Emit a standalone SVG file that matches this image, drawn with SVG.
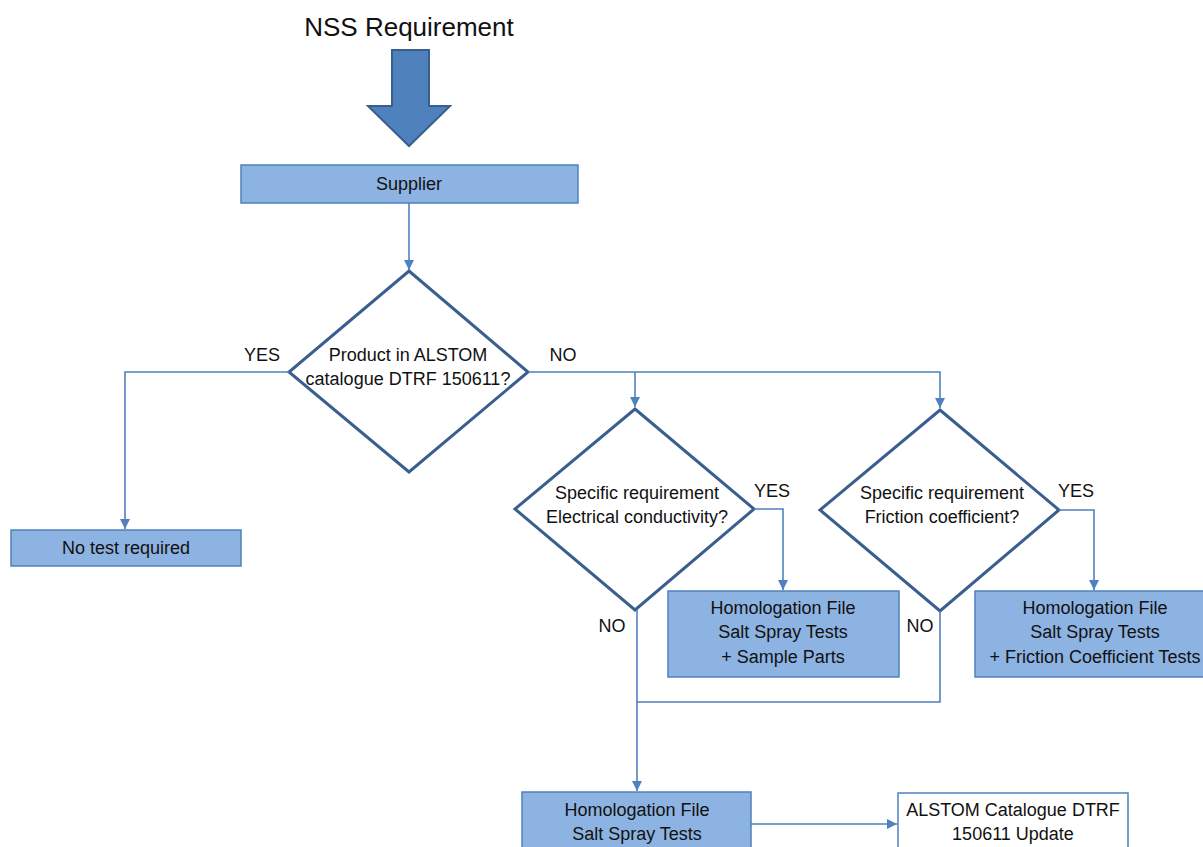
<svg xmlns="http://www.w3.org/2000/svg" width="1203" height="847" viewBox="0 0 1203 847">
  <style>
    .t { font-family: "Liberation Sans", Arial, sans-serif; font-size: 18px; fill: #111; text-anchor: middle; }
    .box { fill: #8DB3E2; stroke: #4F81BD; stroke-width: 1.5; }
    .wbox { fill: #ffffff; stroke: #4F81BD; stroke-width: 1.5; }
    .dia { fill: #ffffff; stroke: #3A5F8F; stroke-width: 3; stroke-linejoin: miter; }
    .con { fill: none; stroke: #4F81BD; stroke-width: 1.6; }
  </style>
  <defs>
    <marker id="arr" markerUnits="userSpaceOnUse" markerWidth="10" markerHeight="10" viewBox="0 0 10 10" refX="10" refY="5" orient="auto">
      <path d="M0,0 L10,5 L0,10 Z" fill="#4F81BD"/>
    </marker>
  </defs>
  <rect width="1203" height="847" fill="#ffffff"/>

  <g id="title">
    <text x="409" y="36" class="t" style="font-size:26px">NSS Requirement</text>
  </g>
  <g id="big-arrow">
    <path d="M392,50 L429,50 L429,106 L450,106 L409,146 L368,106 L392,106 Z" fill="#4F81BD" stroke="#3A5F8F" stroke-width="2"/>
  </g>

  <g id="supplier">
    <rect x="241" y="165" width="337" height="38" class="box"/>
    <text x="409" y="190" class="t">Supplier</text>
  </g>

  <g id="decision-catalogue">
    <polygon points="409,271 528,372 409,472 289,372" class="dia"/>
    <text x="408" y="361" class="t">Product in ALSTOM</text>
    <text x="408" y="385" class="t">catalogue DTRF 150611?</text>
  </g>

  <g id="no-test">
    <rect x="11" y="530" width="230" height="36" class="box"/>
    <text x="126" y="554" class="t">No test required</text>
  </g>

  <g id="decision-electrical">
    <polygon points="635,409 754,509 635,610 515,509" class="dia"/>
    <text x="637" y="499" class="t">Specific requirement</text>
    <text x="637" y="523" class="t">Electrical conductivity?</text>
  </g>

  <g id="decision-friction">
    <polygon points="940,410 1059,510 940,611 820,510" class="dia"/>
    <text x="942" y="499" class="t">Specific requirement</text>
    <text x="942" y="523" class="t">Friction coefficient?</text>
  </g>

  <g id="homologation-sample">
    <rect x="668" y="591" width="231" height="86" class="box"/>
    <text x="783" y="614" class="t">Homologation File</text>
    <text x="783" y="638" class="t">Salt Spray Tests</text>
    <text x="783" y="663" class="t">+ Sample Parts</text>
  </g>

  <g id="homologation-friction">
    <rect x="975" y="591" width="240" height="86" class="box"/>
    <text x="1095" y="614" class="t">Homologation File</text>
    <text x="1095" y="638" class="t">Salt Spray Tests</text>
    <text x="1095" y="663" class="t">+ Friction Coefficient Tests</text>
  </g>

  <g id="homologation-salt">
    <rect x="522" y="792" width="229" height="70" class="box"/>
    <text x="637" y="816" class="t">Homologation File</text>
    <text x="637" y="840" class="t">Salt Spray Tests</text>
  </g>

  <g id="catalogue-update">
    <rect x="898" y="793" width="230" height="70" class="wbox"/>
    <text x="1013" y="816" class="t">ALSTOM Catalogue DTRF</text>
    <text x="1013" y="840" class="t">150611 Update</text>
  </g>

  <g id="connectors">
    <path d="M409,203 V270" class="con" marker-end="url(#arr)"/>
    <path d="M289,372 H125 V529" class="con" marker-end="url(#arr)"/>
    <path d="M528,372 H940 V408" class="con" marker-end="url(#arr)"/>
    <path d="M635,372 V407" class="con" marker-end="url(#arr)"/>
    <path d="M754,509 H783 V590" class="con" marker-end="url(#arr)"/>
    <path d="M1059,510 H1094 V590" class="con" marker-end="url(#arr)"/>
    <path d="M940,611 V702 H637" class="con"/>
    <path d="M637,610 V791" class="con" marker-end="url(#arr)"/>
    <path d="M751,824 H897" class="con" marker-end="url(#arr)"/>
  </g>

  <g id="labels">
    <text x="262" y="361" class="t">YES</text>
    <text x="563" y="361" class="t">NO</text>
    <text x="772" y="497" class="t">YES</text>
    <text x="612" y="632" class="t">NO</text>
    <text x="1076" y="497" class="t">YES</text>
    <text x="920" y="632" class="t">NO</text>
  </g>
</svg>
